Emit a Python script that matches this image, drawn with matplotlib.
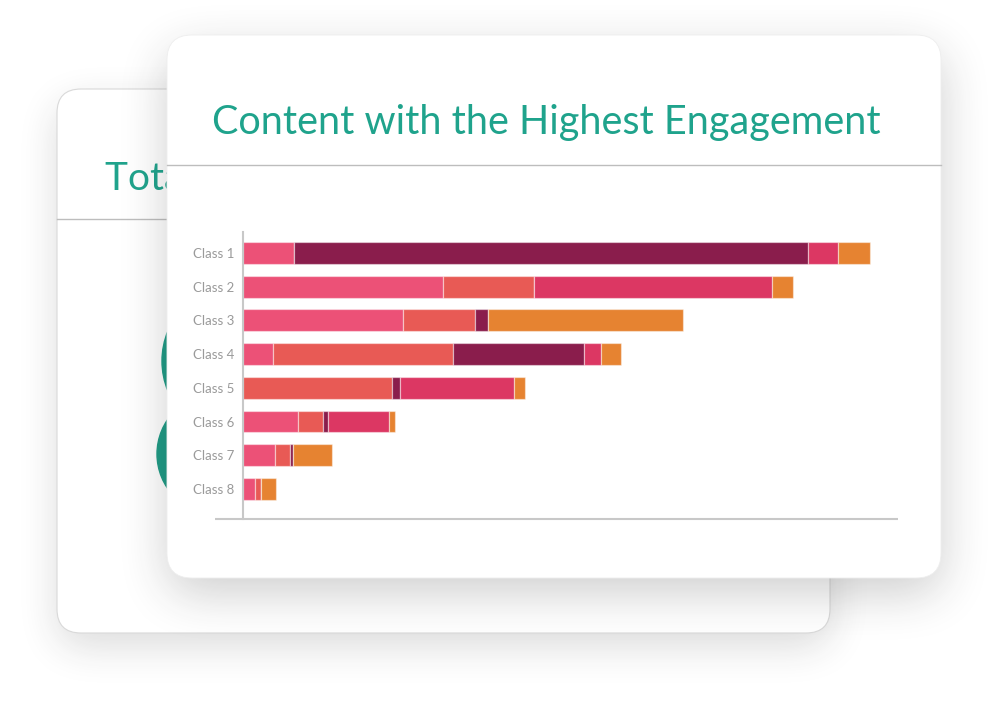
import numpy as np
import matplotlib
matplotlib.use("Agg")
import matplotlib.pyplot as plt
from matplotlib.patches import FancyBboxPatch, Circle
from matplotlib.lines import Line2D

# ---------------- data ----------------
categories = ["Class 1", "Class 2", "Class 3", "Class 4", "Class 5", "Class 6", "Class 7", "Class 8"]
series_names = ["Series A", "Series B", "Series C", "Series D", "Series E"]
series_a = [51, 200, 160, 30, 0, 55, 32, 12]
series_b = [0, 91, 72, 180, 149, 25, 15, 6]
series_c = [514, 0, 13, 131, 8, 5, 3, 0]
series_d = [30, 238, 0, 17, 114, 61, 0, 0]
series_e = [32, 21, 195, 20, 11, 6, 39, 15]
series_colors = ["#EC5177", "#E85A55", "#8A1D4C", "#DC3763", "#E68331"]
title = "Content with the Highest Engagement"
back_title = "Total Engagement"

W, H = 997, 712
TEAL = "#1FA38C"

fig = plt.figure(figsize=(W / 100, H / 100), dpi=100)
fig.patch.set_facecolor("white")

bg = fig.add_axes([0, 0, 1, 1], zorder=0)
bg.set_xlim(0, W)
bg.set_ylim(H, 0)
bg.axis("off")


def rrect_mask(x0, y0, x1, y1, r):
    yy, xx = np.mgrid[0:H, 0:W] + 0.5
    cx = np.clip(xx, x0 + r, x1 - r)
    cy = np.clip(yy, y0 + r, y1 - r)
    return (np.hypot(xx - cx, yy - cy) <= r).astype(float)


def box1d(a, r, axis):
    pad = [(0, 0), (0, 0)]
    pad[axis] = (r + 1, r)
    p = np.pad(a, pad)
    c = np.cumsum(p, axis=axis)
    n = a.shape[axis]
    if axis == 0:
        return (c[2 * r + 1:2 * r + 1 + n, :] - c[0:n, :]) / (2 * r + 1)
    return (c[:, 2 * r + 1:2 * r + 1 + n] - c[:, 0:n]) / (2 * r + 1)


def blur(a, sigma):
    r = int(round(np.sqrt(12 * sigma ** 2 / 3 + 1) / 2))
    for _ in range(3):
        a = box1d(a, r, 0)
        a = box1d(a, r, 1)
    return a


def shadow(x0, y0, x1, y1, r, dy, sigma, k, z):
    m = rrect_mask(x0, y0 + dy, x1, y1 + dy, r)
    s = blur(m, sigma) * k
    img = np.zeros((H, W, 4))
    img[..., :3] = 0.15
    img[..., 3] = s
    bg.imshow(img, extent=(0, W, H, 0), zorder=z, interpolation="bilinear", aspect="auto")


# back card
bx0, by0, bx1, by1, br = 57, 89, 830, 633, 24
shadow(bx0, by0, bx1, by1, br, 14, 18, 0.16, 1)
bg.add_patch(FancyBboxPatch((bx0 + br, by0 + br), bx1 - bx0 - 2 * br, by1 - by0 - 2 * br,
                            boxstyle=f"round,pad={br}", fc="white", ec="#D9D9D9", lw=0.8, zorder=2))
bg.text(105, 190, back_title, color=TEAL, fontsize=28, family="Lato", ha="left", va="baseline", zorder=3)
bg.add_line(Line2D([bx0, bx1], [219, 219], color="#BDBDBD", lw=1, zorder=3))
bg.add_patch(Circle((241, 361), 79, color="#1E9B85", zorder=3))
bg.add_patch(Circle((218, 454), 61, color="#1E9B85", zorder=3))

# front card
fx0, fy0, fx1, fy1, fr = 167, 35, 941, 578, 25
shadow(fx0, fy0, fx1, fy1, fr, 16, 22, 0.22, 4)
bg.add_patch(FancyBboxPatch((fx0 + fr, fy0 + fr), fx1 - fx0 - 2 * fr, fy1 - fy0 - 2 * fr,
                            boxstyle=f"round,pad={fr}", fc="white", ec="#EEEEEE", lw=0.6, zorder=5))
bg.text(546, 134, title, color=TEAL, fontsize=28.5, family="Lato",
        ha="center", va="baseline", zorder=6)
bg.add_line(Line2D([fx0, fx1], [164.5, 164.5], color="#BDBDBD", lw=1, zorder=6))
bg.add_line(Line2D([215, 898], [519, 519], color="#C8C8C8", lw=1.5, zorder=6, solid_capstyle="butt"))

# chart axes
ax_left, ax_right, ax_top, ax_bottom = 243, 898, 232, 519
ax = fig.add_axes([ax_left / W, (H - ax_bottom) / H, (ax_right - ax_left) / W, (ax_bottom - ax_top) / H],
                  zorder=2)
ax.patch.set_alpha(0)
ax.set_xlim(0, ax_right - ax_left)
ax.set_ylim(7.89, -0.62)

ypos = np.arange(len(categories))
left = np.zeros(len(categories))
for vals, col in zip([series_a, series_b, series_c, series_d, series_e], series_colors):
    v = np.array(vals, dtype=float)
    ax.barh(ypos, v, left=left, height=0.65, color=col, edgecolor=(1, 1, 1, 0.45), linewidth=0.9)
    left += v

ax.set_yticks(ypos)
ax.set_yticklabels(categories, family="Lato", fontweight="normal", fontsize=9.5, color="#9A9A9A")
ax.tick_params(axis="y", length=0, pad=6)
ax.set_xticks([])
for s in ["top", "right", "bottom"]:
    ax.spines[s].set_visible(False)
ax.spines["left"].set_color("#C8C8C8")
ax.spines["left"].set_linewidth(1.5)

fig.savefig("out.png", dpi=100, facecolor="white")
